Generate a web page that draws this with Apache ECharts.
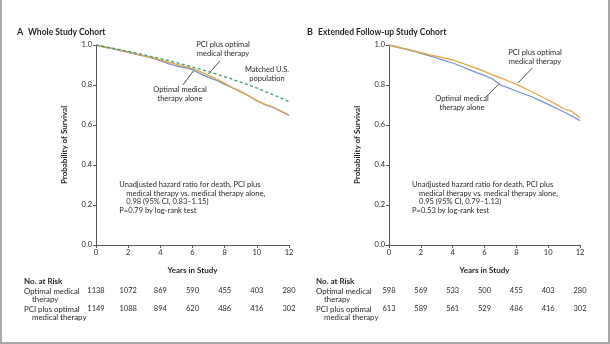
<!DOCTYPE html>
<html><head><meta charset="utf-8">
<script src="https://cdn.jsdelivr.net/npm/echarts@6/dist/echarts.min.js"></script>
<style>html,body{margin:0;padding:0;background:#fff}#c{width:610px;height:344px}</style>
</head><body><div id="c"></div>
<script>
// ---- data ----
var yearsA = [0,0.5,1,1.5,2,2.5,3,3.5,4,4.5,5,5.5,6,6.5,7,7.5,8,8.5,9,9.5,10,10.5,11,11.5,12];
var omtA = [1.0,0.99,0.982,0.972,0.963,0.953,0.944,0.934,0.922,0.907,0.895,0.887,0.877,0.856,0.838,0.823,0.803,0.785,0.768,0.745,0.722,0.702,0.688,0.668,0.648];
var pciA = [1.0,0.99,0.983,0.974,0.965,0.956,0.946,0.937,0.926,0.914,0.903,0.893,0.882,0.866,0.848,0.830,0.808,0.786,0.766,0.745,0.722,0.703,0.690,0.670,0.650];
var yearsUS = [0,1,2,3,4,5,6,7,8,9,10,11,12];
var usA = [1.0,0.985,0.968,0.951,0.932,0.912,0.890,0.867,0.842,0.814,0.785,0.752,0.717];
var yearsB = [0,0.5,1,1.5,2,2.5,3,3.5,4,4.5,5,5.5,6,6.5,7,7.5,8,8.5,9,9.5,10,10.5,11,11.5,12];
var omtB = [1.0,0.99,0.98,0.97,0.958,0.947,0.935,0.922,0.91,0.895,0.878,0.862,0.848,0.83,0.80,0.786,0.77,0.755,0.74,0.722,0.703,0.685,0.665,0.645,0.622];
var pciB = [1.0,0.99,0.981,0.972,0.962,0.952,0.943,0.934,0.925,0.912,0.897,0.883,0.868,0.851,0.836,0.82,0.803,0.785,0.765,0.745,0.725,0.703,0.68,0.668,0.635];
var riskYears = [0,2,4,6,8,10,12];
var riskOmtA = [1138,1072,869,590,455,403,280];
var riskPciA = [1149,1088,894,620,486,416,302];
var riskOmtB = [598,569,533,500,455,403,280];
var riskPciB = [613,589,561,529,486,416,302];
var titleA = ['A', 'Whole Study Cohort'];
var titleB = ['B', 'Extended Follow-up Study Cohort'];
var hrA = ['Unadjusted hazard ratio for death, PCI plus', 'medical therapy vs. medical therapy alone,', '0.98 (95% CI, 0.83\u20131.15)', 'P=0.79 by log-rank test'];
var hrB = ['Unadjusted hazard ratio for death, PCI plus', 'medical therapy vs. medical therapy alone,', '0.95 (95% CI, 0.79\u20131.13)', 'P=0.53 by log-rank test'];
var rowLabels = [['Optimal medical', 'therapy'], ['PCI plus optimal', 'medical therapy']];

function pairs(x, y){ return x.map(function(v,i){return [v, y[i]];}); }

var FONT = 'Lato';
var TXT = '#231f20';
var BLUE = '#7393cf', ORANGE = '#e2a63f', GREEN = '#3b9a7b';

var chart = echarts.init(document.getElementById('c'), null, {renderer:'canvas'});

function xAxisCfg(gi){
  return {gridIndex: gi, type:'value', min:0, max:12, interval:2,
    name:'Years in Study', nameLocation:'middle', nameGap:21,
    nameTextStyle:{fontFamily:FONT, fontWeight:'bold', fontSize:8, color:TXT},
    axisLine:{lineStyle:{color:'#555', width:1}}, axisTick:{show:true, length:3, lineStyle:{color:'#555'}},
    axisLabel:{fontFamily:FONT, fontSize:7.5, color:TXT, margin:4}, splitLine:{show:false}};
}
function yAxisCfg(gi){
  return {gridIndex: gi, type:'value', min:0, max:1, interval:0.2,
    name:'Probability of Survival', nameLocation:'middle', nameGap:28, nameRotate:90,
    nameTextStyle:{fontFamily:FONT, fontWeight:'bold', fontSize:8, color:TXT},
    axisLine:{show:true, lineStyle:{color:'#555', width:1}}, axisTick:{show:true, length:3, lineStyle:{color:'#555'}},
    axisLabel:{fontFamily:FONT, fontSize:7.5, color:TXT, margin:4, formatter:function(v){return v.toFixed(1);}}, splitLine:{show:false}};
}
function line(gi, data, color, dashed){
  return {type:'line', xAxisIndex:gi, yAxisIndex:gi, data:data, showSymbol:false, silent:true,
    lineStyle:{color:color, width:1.3, type: dashed ? [3,2.5] : 'solid'}, z: dashed?3:2};
}

chart.setOption({
  animation:false,
  grid:[{left:96, top:45, width:193, height:200}, {left:389, top:45, width:191, height:200}],
  xAxis:[xAxisCfg(0), xAxisCfg(1)],
  yAxis:[yAxisCfg(0), yAxisCfg(1)],
  series:[
    line(0, pairs(yearsUS, usA), GREEN, true),
    line(0, pairs(yearsA, omtA), BLUE),
    line(0, pairs(yearsA, pciA), ORANGE),
    line(1, pairs(yearsB, omtB), BLUE),
    line(1, pairs(yearsB, pciB), ORANGE)
  ]
});

function px(gi, x, y){ return chart.convertToPixel({gridIndex:gi}, [x, y]); }

var g = [];
function txt(x, y, s, opt){
  opt = opt || {};
  g.push({type:'text', x:x, y:y, silent:true, style:{text:s, fill:TXT, font:(opt.bold?'bold ':'') + (opt.size||7.5) + 'px ' + FONT, textAlign:opt.align||'left', textVerticalAlign:'middle'}});
}
function seg(a, b){
  g.push({type:'line', silent:true, shape:{x1:a[0], y1:a[1], x2:b[0], y2:b[1]}, style:{stroke:'#231f20', lineWidth:0.8}});
}

// frame
g.push({type:'line', silent:true, shape:{x1:1, y1:0, x2:1, y2:344}, style:{stroke:'#a9a9a9', lineWidth:2}});
g.push({type:'line', silent:true, shape:{x1:609, y1:0, x2:609, y2:344}, style:{stroke:'#a9a9a9', lineWidth:2}});
g.push({type:'line', silent:true, shape:{x1:0, y1:343, x2:610, y2:343}, style:{stroke:'#a9a9a9', lineWidth:2}});

// titles
function title(x, t){
  txt(x, 32, t[0], {bold:true, size:9});
  txt(x + 11, 32, t[1], {bold:true, size:8.5});
}
title(17, titleA);
title(307, titleB);

// annotations panel A
txt(223, 45, 'PCI plus optimal', {align:'center'});
txt(223, 53.5, 'medical therapy', {align:'center'});
seg(px(0, 7.7, 0.92), px(0, 7.0, 0.855));
txt(180, 90, 'Optimal medical', {align:'center'});
txt(180, 98.5, 'therapy alone', {align:'center'});
seg(px(0, 5.4, 0.80), px(0, 6.1, 0.875));
txt(267, 70, 'Matched U.S.', {align:'center'});
txt(267, 78.5, 'population', {align:'center'});

// annotations panel B
txt(535, 53, 'PCI plus optimal', {align:'center'});
txt(535, 61.5, 'medical therapy', {align:'center'});
seg(px(1, 9.0, 0.885), px(1, 8.1, 0.81));
txt(462, 99, 'Optimal medical', {align:'center'});
txt(462, 107.5, 'therapy alone', {align:'center'});
seg(px(1, 6.1, 0.74), px(1, 6.9, 0.805));

// hazard ratio texts
function hr(gi, lines){
  var p = px(gi, 1.45, 0.3);
  var x0 = p[0];
  txt(x0, 185, lines[0]);
  txt(x0 + 7, 193.5, lines[1]);
  txt(x0 + 7, 202, lines[2]);
  txt(x0, 211, lines[3]);
}
hr(0, hrA); hr(1, hrB);

// risk tables
function risk(gi, labelX, r1, r2){
  txt(labelX, 281, 'No. at Risk', {bold:true, size:8});
  txt(labelX, 291, rowLabels[0][0], {size:7.8});
  txt(labelX + 8, 299, rowLabels[0][1], {size:7.8});
  txt(labelX, 309, rowLabels[1][0], {size:7.8});
  txt(labelX + 8, 317, rowLabels[1][1], {size:7.8});
  riskYears.forEach(function(t, i){
    var x = px(gi, t, 0)[0];
    txt(x, 291, String(r1[i]), {align:'center'});
    txt(x, 309, String(r2[i]), {align:'center'});
  });
}
risk(0, 24, riskOmtA, riskPciA);
risk(1, 316, riskOmtB, riskPciB);

chart.setOption({graphic:{elements:g}});
</script>
</body></html>
